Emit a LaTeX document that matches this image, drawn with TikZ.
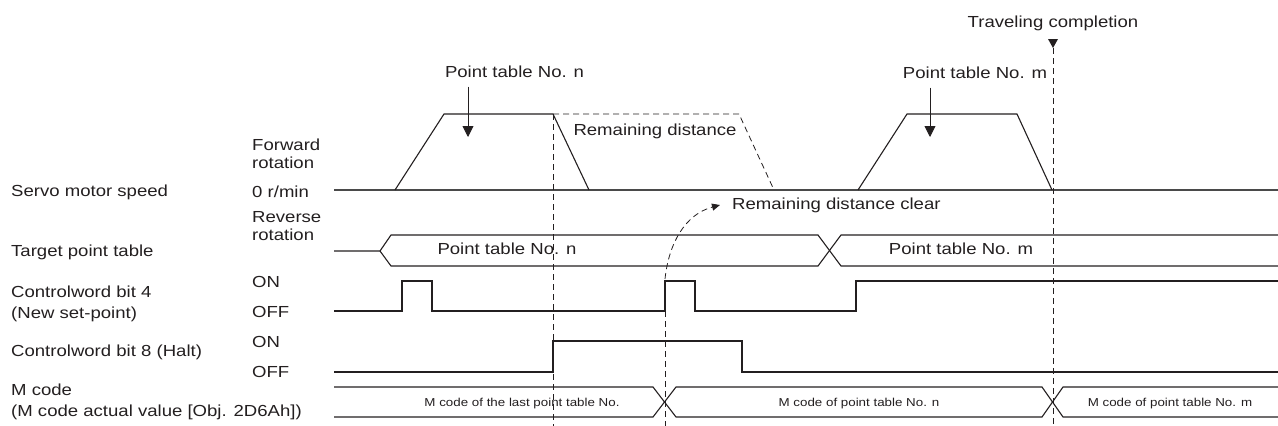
\documentclass[tikz,border=0pt]{standalone}
\usepackage{fontspec}
\setmainfont{Liberation Sans}[FakeStretch=1.16]
\usetikzlibrary{arrows.meta}
\definecolor{ink}{HTML}{231F20}
\definecolor{zeroline}{HTML}{4A4A4A}
\begin{document}
\begin{tikzpicture}[x=1pt,y=1pt,
  txt/.style={inner sep=0pt, text=ink, font=\fontsize{16}{18}\selectfont},
  txtb/.style={inner sep=0pt, text=ink, align=left, font=\fontsize{16}{21}\selectfont},
  small/.style={inner sep=0pt, text=ink, font=\fontsize{11.5}{13}\selectfont},
  wave/.style={draw=ink, line width=1.1pt, line join=miter},
  zero/.style={draw=zeroline, line width=1.8pt},
  guide/.style={draw=ink, line width=0.8pt, dash pattern=on 6pt off 4pt},
  arr/.style={draw=ink, line width=0.9pt, -{Triangle[length=11pt,width=11pt]}},
]
\useasboundingbox (0,0) rectangle (1278,-426);

% ---- left labels
\node[txt, anchor=mid west] (lspeed) at (11,-193.5) {Servo motor speed};
\node[txt, anchor=mid west] (ltarget) at (11,-253.5) {Target point table};
\node[txtb, anchor=west] (lbit4) at (11,-304) {Controlword bit 4\\(New set-point)};
\node[txt, anchor=mid west] (lbit8) at (11,-353.5) {Controlword bit 8 (Halt)};
\node[txtb, anchor=west] (lmcode) at (11,-402) {M code\\(M code actual value [Obj. 2D6Ah])};

% ---- level labels
\node[txt, anchor=west, align=left] (lfwd) at (252,-154) {Forward\\rotation};
\node[txt, anchor=mid west] (lzero) at (252,-194.5) {0 r/min};
\node[txt, anchor=west, align=left] (lrev) at (252,-226) {Reverse\\rotation};
\node[txt, anchor=mid west] (lon1) at (252,-284.5) {ON};
\node[txt, anchor=mid west] (loff1) at (252,-314.5) {OFF};
\node[txt, anchor=mid west] (lon2) at (252,-344.5) {ON};
\node[txt, anchor=mid west] (loff2) at (252,-374.5) {OFF};

% ---- top labels
\node[txt, anchor=mid] (ltc) at (1053,-24.5) {Traveling completion};
\node[txt, anchor=mid] (lptn) at (514.5,-74.5) {Point table No. n};
\node[txt, anchor=mid] (lptm) at (975,-75.5) {Point table No. m};
\node[txt, anchor=mid] (lrd) at (655,-132.5) {Remaining distance};
\node[txt, anchor=mid west] (lrdc) at (732,-206.5) {Remaining distance clear};

% ---- servo motor speed
\draw[zero] (334,-190) -- (1278,-190);
\draw[wave] (395,-190) -- (444,-114) -- (553,-114) -- (589,-190);
\draw[wave] (858,-190) -- (907,-114) -- (1017,-114) -- (1052,-190);
\draw[guide] (553,-114) -- (739,-114) -- (774,-190);

% ---- target point table
\draw[wave] (334,-251) -- (380,-251) -- (391,-235) -- (818,-235) -- (841,-266) -- (1278,-266);
\draw[wave] (380,-251) -- (391,-266) -- (818,-266) -- (841,-235) -- (1278,-235);
\node[txt, anchor=mid] (tpn) at (507,-251.5) {Point table No. n};
\node[txt, anchor=mid] (tpm) at (961,-251.5) {Point table No. m};

% ---- controlword bit 4
\draw[wave] (334,-311) -- (402,-311) -- (402,-281) -- (432,-281) -- (432,-311)
  -- (665,-311) -- (665,-281) -- (695,-281) -- (695,-311)
  -- (856,-311) -- (856,-281) -- (1278,-281);

% ---- controlword bit 8
\draw[wave] (334,-372) -- (553,-372) -- (553,-341) -- (742,-341) -- (742,-372) -- (1278,-372);

% ---- M code
\draw[wave] (334,-387) -- (653,-387) -- (676,-417) -- (1042,-417) -- (1063,-387) -- (1278,-387);
\draw[wave] (334,-417) -- (653,-417) -- (676,-387) -- (1042,-387) -- (1063,-417) -- (1278,-417);
\node[small, anchor=mid] (mc1) at (522,-403.5) {M code of the last point table No.};
\node[small, anchor=mid] (mc2) at (859,-403.5) {M code of point table No. n};
\node[small, anchor=mid] (mc3) at (1170,-403.5) {M code of point table No. m};

% ---- guide lines
\draw[guide] (553,-114) -- (553,-426);
\draw[guide] (665,-311) -- (665,-426);
\draw[guide] (1053,-48) -- (1053,-426);
\fill[ink] (1048,-39) -- (1058,-39) -- (1053,-48) -- cycle;

% ---- arrows
\coordinate (tipn) at (468,-137);
\coordinate (tipm) at (930,-137);
\draw[arr] (lptn.south -| tipn) ++(0,-9) -- (tipn);
\draw[arr] (lptm.south -| tipm) ++(0,-9) -- (tipm);
\coordinate (rdcStart) at (665,-279);
\coordinate (rdcTip) at (720,-205);
\draw[guide, -{Triangle[length=8pt,width=7pt]}] (rdcStart) to[out=84,in=195] (rdcTip);
\end{tikzpicture}
\end{document}
